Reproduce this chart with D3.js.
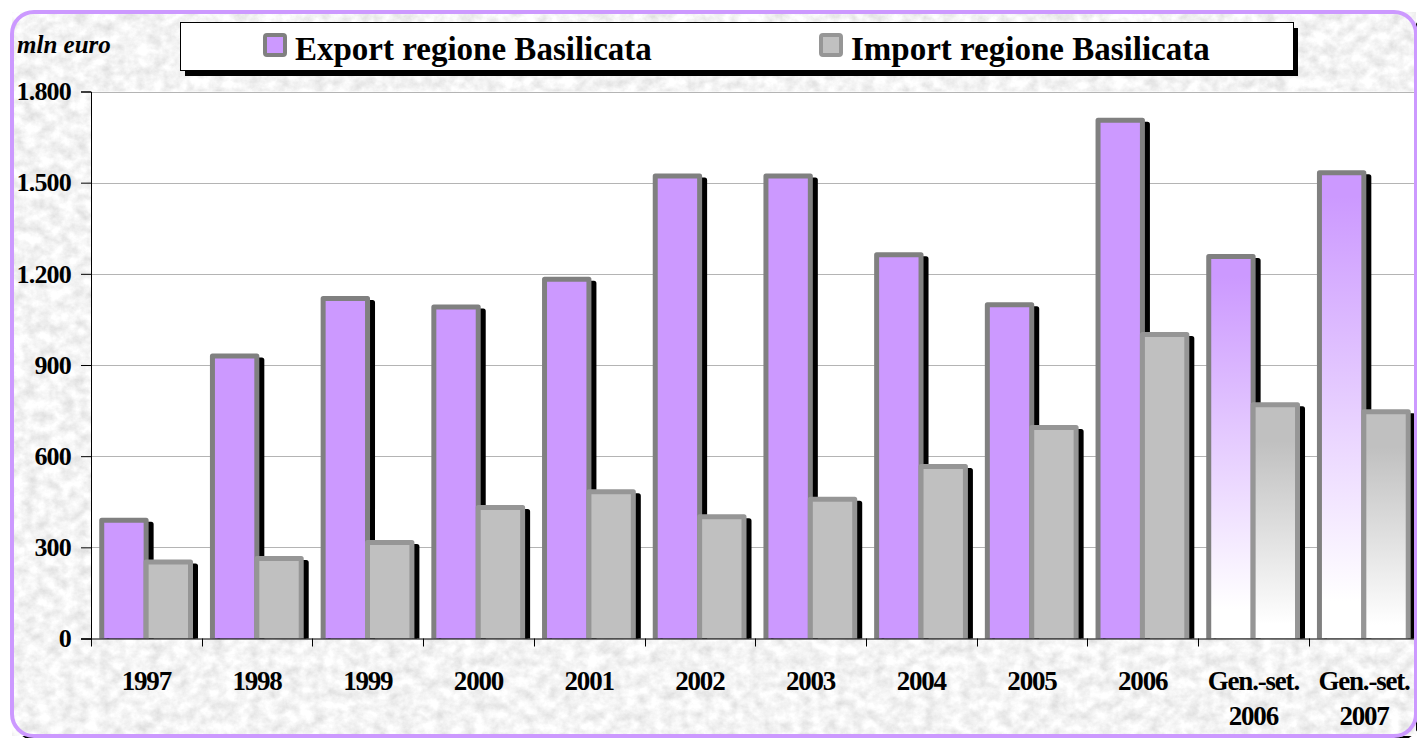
<!DOCTYPE html>
<html>
<head>
<meta charset="utf-8">
<script src="https://cdn.jsdelivr.net/npm/d3@7"></script>
<style>
html,body{margin:0;padding:0;background:#fff;}
svg{display:block;}
text{font-family:"Liberation Serif","Times New Roman",serif;}
</style>
</head>
<body>
<svg id="chart" width="1417" height="738"></svg>
<script>
// ---- data ----
const categories = ["1997","1998","1999","2000","2001","2002","2003","2004","2005","2006","Gen.-set.\n2006","Gen.-set.\n2007"];
const seriesNames = ["Export regione Basilicata","Import regione Basilicata"];
const exportValues = [389, 930, 1119, 1091, 1182, 1522, 1522, 1263, 1098, 1705, 1257, 1533];
const importValues = [252, 263, 316, 431, 483, 401, 458, 566, 694, 1000, 769, 746];
const partialYear = [false,false,false,false,false,false,false,false,false,false,true,true];
const yTicks = [0, 300, 600, 900, 1200, 1500, 1800];
const yTickLabels = ["0","300","600","900","1.200","1.500","1.800"];
const yUnit = "mln euro";

const svg = d3.select("#chart");
const plot = {left: 91, top: 91.5, bottom: 638.5, right: 1414};
const bandW = 110.7;
const frame = {x: 12, y: 12, w: 1404, h: 724, r: 22};

const defs = svg.append("defs");
// marble texture
const f = defs.append("filter").attr("id","marble").attr("x",0).attr("y",0).attr("width","100%").attr("height","100%");
f.append("feTurbulence").attr("type","fractalNoise").attr("baseFrequency","0.08 0.09").attr("numOctaves",5).attr("seed",11).attr("result","n");
f.append("feColorMatrix").attr("in","n").attr("type","matrix")
 .attr("values","0.45 0 0 0 0.68  0.45 0 0 0 0.68  0.45 0 0 0 0.68  0 0 0 0 1");
// gradients
const colors = {fill:["#CC99FF","#C0C0C0"], stroke:["#808080","#969696"]};
[0,1].forEach(i=>{
  const g = defs.append("linearGradient").attr("id","grad"+i).attr("x1",0).attr("y1",0).attr("x2",0).attr("y2",1);
  g.append("stop").attr("offset", i===0 ? "0.05" : "0.15").attr("stop-color", colors.fill[i]);
  g.append("stop").attr("offset","0.9").attr("stop-color","#ffffff");
});
defs.append("clipPath").attr("id","plotclip").append("rect")
  .attr("x",plot.left).attr("y",plot.top-3).attr("width",plot.right-plot.left+3).attr("height",plot.bottom-plot.top+3);

// outer frame shadow + textured fill
svg.append("rect").attr("x",frame.x+3).attr("y",frame.y+3).attr("width",frame.w).attr("height",frame.h).attr("rx",frame.r)
  .attr("fill","none").attr("stroke","#000").attr("stroke-width",4);
svg.append("rect").attr("x",frame.x).attr("y",frame.y).attr("width",frame.w).attr("height",frame.h).attr("rx",frame.r)
  .attr("filter","url(#marble)").attr("fill","#fff");

// scales
const x0 = d3.scaleBand().domain(categories).range([plot.left, plot.left + bandW*categories.length]).padding(0);
const x1 = d3.scaleBand().domain(seriesNames).range([bandW*0.097, bandW*0.899]).padding(0);
const y = d3.scaleLinear().domain([0,1800]).range([plot.bottom, plot.top]);

// plot area
svg.append("rect").attr("x",plot.left).attr("y",plot.top).attr("width",plot.right-plot.left).attr("height",plot.bottom-plot.top).attr("fill","#fff");

// gridlines
svg.append("g").selectAll("line").data(yTicks.filter(d=>d>0)).join("line")
  .attr("x1",plot.left).attr("x2",plot.right).attr("y1",d=>Math.round(y(d))+0.5).attr("y2",d=>Math.round(y(d))+0.5)
  .attr("stroke","#b4b4b4").attr("stroke-width",1.2);

// bars
const rows = categories.map((c,i)=>({cat:c, partial:partialYear[i], vals:[exportValues[i], importValues[i]]}));
const barsG = svg.append("g").attr("clip-path","url(#plotclip)");
const flat = [];
rows.forEach(r=>r.vals.forEach((v,si)=>flat.push({cat:r.cat, s:seriesNames[si], si, v, partial:r.partial})));

barsG.selectAll("rect.shadow").data(flat).join("rect").attr("class","shadow")
  .attr("x",d=>x0(d.cat)+x1(d.s)+5).attr("y",d=>y(d.v)+4)
  .attr("width",x1.bandwidth()).attr("height",d=>plot.bottom-y(d.v)+10)
  .attr("fill","#000").attr("stroke","#000").attr("stroke-width",5).attr("stroke-linejoin","round");

barsG.selectAll("rect.bar").data(flat).join("rect").attr("class","bar")
  .attr("x",d=>x0(d.cat)+x1(d.s)).attr("y",d=>y(d.v))
  .attr("width",x1.bandwidth()).attr("height",d=>plot.bottom-y(d.v)+10)
  .attr("fill",d=>d.partial ? "url(#grad"+d.si+")" : colors.fill[d.si])
  .attr("stroke",d=>colors.stroke[d.si]).attr("stroke-width",5).attr("stroke-linejoin","round");

// axes
const yAxis = d3.axisLeft(y).tickValues(yTicks).tickSize(10).tickFormat((d,i)=>yTickLabels[i]).tickPadding(10);
const ya = svg.append("g").attr("transform",`translate(${plot.left},0)`).call(yAxis);
ya.select(".domain").attr("stroke","#000");
ya.selectAll(".tick line").attr("stroke","#000");
ya.selectAll(".tick text").attr("font-family","'Liberation Serif','Times New Roman',serif")
  .attr("font-size",26).attr("font-weight","bold").attr("fill","#000").attr("letter-spacing","-0.8");

const xAxis = d3.axisBottom(x0).tickSize(0).tickFormat("");
const xa = svg.append("g").attr("transform",`translate(0,${plot.bottom})`).call(xAxis);
xa.select(".domain").attr("d",`M${plot.left-10},0.5H${plot.right}`).attr("stroke","#000");
xa.selectAll("line.bt").data(categories.slice(1)).join("line").attr("class","bt")
  .attr("x1",d=>Math.round(x0(d))+0.5).attr("x2",d=>Math.round(x0(d))+0.5).attr("y1",0).attr("y2",8).attr("stroke","#000");
xa.append("line").attr("x1",plot.left+0.5).attr("x2",plot.left+0.5).attr("y1",0).attr("y2",8).attr("stroke","#000");

// category labels
const lab = svg.append("g").selectAll("text").data(categories).join("text")
  .attr("text-anchor","middle").attr("font-size",27).attr("font-weight","bold").attr("letter-spacing","-1.2")
  .attr("transform",d=>`translate(${x0(d)+x0.bandwidth()/2},690)`);
lab.selectAll("tspan").data(d=>d.split("\n")).join("tspan")
  .attr("x",0).attr("dy",(d,i)=>i===0?0:35).text(d=>d);

// unit label
svg.append("text").attr("x",17).attr("y",53).attr("font-size",25).attr("font-style","italic").attr("font-weight","bold").text(yUnit);

// legend
svg.append("rect").attr("x",185).attr("y",28).attr("width",1113).attr("height",48).attr("fill","#000");
svg.append("rect").attr("x",180.5).attr("y",22.5).attr("width",1113).attr("height",48).attr("fill","#fff").attr("stroke","#000");
const legX = [265, 821];
const leg = svg.append("g").selectAll("g").data(seriesNames).join("g")
  .attr("transform",(d,i)=>`translate(${legX[i]},35)`);
leg.append("rect").attr("width",20).attr("height",20).attr("rx",2)
  .attr("fill",(d,i)=>colors.fill[i]).attr("stroke",(d,i)=>colors.stroke[i]).attr("stroke-width",4);
leg.append("text").attr("x",30).attr("y",24.5).attr("font-size",33).attr("font-weight","bold").text(d=>d);

// frame border on top
svg.append("rect").attr("x",frame.x).attr("y",frame.y).attr("width",frame.w).attr("height",frame.h).attr("rx",frame.r)
  .attr("fill","none").attr("stroke","#CC99FF").attr("stroke-width",4);
</script>
</body>
</html>
